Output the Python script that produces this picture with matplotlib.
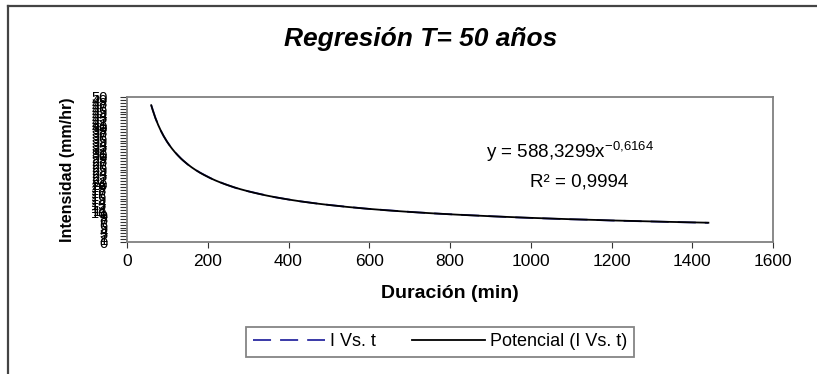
import numpy as np
import matplotlib
matplotlib.use("Agg")
import matplotlib.pyplot as plt
from matplotlib.lines import Line2D

plt.rcParams['font.family'] = ['Liberation Sans', 'DejaVu Sans']
plt.rcParams['mathtext.fontset'] = 'custom'
plt.rcParams['mathtext.rm'] = 'Liberation Sans'
plt.rcParams['mathtext.it'] = 'Liberation Sans'

# Data
duracion = [60, 70, 80, 90, 100, 110, 120, 135, 150, 165, 180, 210, 240, 270, 300,
            360, 420, 480, 540, 600, 660, 720, 780, 840, 900, 960, 1020, 1080,
            1140, 1200, 1260, 1320, 1380, 1440]
intensidad = [47.2, 42.9, 39.4, 36.7, 34.4, 32.5, 30.8, 28.6, 26.8, 25.3, 24.0, 21.8,
              20.1, 18.6, 17.5, 15.6, 14.2, 13.1, 12.2, 11.4, 10.8, 10.2, 9.7, 9.3,
              8.9, 8.5, 8.2, 7.9, 7.7, 7.4, 7.2, 7.0, 6.8, 6.6]
coef_a = 588.3299
coef_b = -0.6164
r2 = 0.9994
x_ticks = [0, 200, 400, 600, 800, 1000, 1200, 1400, 1600]
y_ticks = list(range(0, 51))

W, H = 817, 374
fig = plt.figure(figsize=(W / 100, H / 100), dpi=100)

# outer frame lines (top and left)
fig.add_artist(Line2D([8 / W, 1], [1 - 5.5 / H, 1 - 5.5 / H], color='#444444', lw=1.6))
fig.add_artist(Line2D([8 / W, 8 / W], [0, 1 - 5.5 / H], color='#444444', lw=1.6))

ax = fig.add_axes([127 / W, 1 - 242 / H, (773 - 127) / W, (242 - 97) / H])

t_fit = np.linspace(min(duracion), max(duracion), 400)
ax.plot(duracion, intensidad, color='#2a2aa0', lw=1.3, ls=(0, (10, 5)), label='I Vs. t')
ax.plot(t_fit, coef_a * t_fit ** coef_b, color='black', lw=1.3, label='Potencial (I Vs. t)')

ax.set_xlim(0, 1600)
ax.set_ylim(0, 50)
ax.set_xticks(x_ticks)
ax.set_yticks(y_ticks)
ax.set_yticklabels([str(v) for v in y_ticks], fontsize=10.5)
ax.tick_params(axis='x', labelsize=12.5, length=4, color='#333333', pad=5)
ax.tick_params(axis='y', length=5, color='#333333', pad=9)
for s in ax.spines.values():
    s.set_color('#808080')
    s.set_linewidth(1.3)

ax.set_xlabel('Duración (min)', fontsize=14, fontweight='bold', labelpad=11)
ax.set_ylabel('Intensidad (mm/hr)', fontsize=11.5, fontweight='bold', labelpad=12)

fig.text(421 / W, 1 - 39 / H, 'Regresión T= 50 años', ha='center', va='center',
         fontsize=19, fontweight='bold', fontstyle='italic')

ax.text(0.686, 0.62, r'y = 588,3299x$^{\mathrm{-0{,}6164}}$', transform=ax.transAxes,
        ha='center', va='center', fontsize=13.5)
ax.text(0.70, 0.414, 'R² = 0,9994', transform=ax.transAxes,
        ha='center', va='center', fontsize=13.5)

leg = fig.legend(loc='center', bbox_to_anchor=(440 / W, 1 - 342 / H), ncol=2,
                 fontsize=13, frameon=True, fancybox=False, edgecolor='#666666',
                 handlelength=4.0, columnspacing=2.0, handletextpad=0.3,
                 borderpad=0.35, borderaxespad=0)
leg.get_frame().set_linewidth(1.3)
leg._legend_box.sep = 10

fig.savefig('out.png', dpi=100)
